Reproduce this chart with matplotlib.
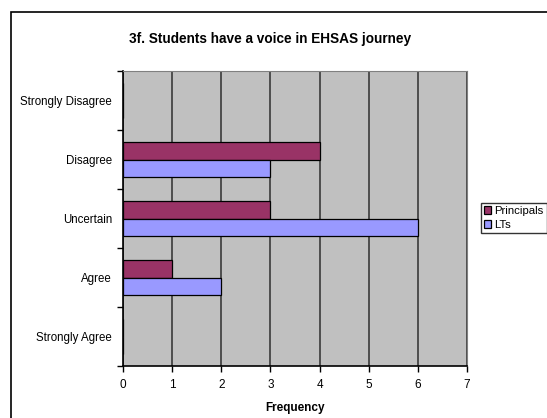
import matplotlib
matplotlib.use("Agg")
import numpy as np
from matplotlib import pyplot as plt
from matplotlib.patches import Rectangle

categories = ['Strongly Agree', 'Agree', 'Uncertain', 'Disagree', 'Strongly Disagree']
principals = [0, 1, 3, 4, 0]
lts = [0, 2, 6, 3, 0]
xticks = [0, 1, 2, 3, 4, 5, 6, 7]

plt.rcParams['font.family'] = ['Liberation Sans', 'DejaVu Sans']

fig = plt.figure(figsize=(5.47, 4.18), dpi=100)
# outer chart border (runs off right/bottom edge)
fig.patches.append(Rectangle((11 / 547, -0.1), 1.0, 1 - 12 / 418 + 0.1, transform=fig.transFigure,
                             fill=False, edgecolor='black', linewidth=1.2))

ax = fig.add_axes([123 / 547, 1 - 366 / 418, 344 / 547, 295 / 418])
ax.set_facecolor('#c0c0c0')

y = np.arange(len(categories))
h = 0.3
ax.barh(y + h / 2, principals, height=h, color='#993366', edgecolor='black', linewidth=0.9, label='Principals')
ax.barh(y - h / 2, lts, height=h, color='#9999ff', edgecolor='black', linewidth=0.9, label='LTs')

ax.set_xlim(0, 7)
ax.set_ylim(-0.5, len(categories) - 0.5)
ax.set_xticks(xticks)
ax.set_xticklabels([str(t) for t in xticks], fontsize=8.5)
ax.xaxis.grid(True, color='#4d4d4d', linewidth=1.4)
ax.set_axisbelow(True)

# category labels centred, tick marks on the boundaries
ax.set_yticks(y)
ax.set_yticklabels(categories, fontsize=8.3)
ax.tick_params(axis='y', length=0, pad=8)
ax.set_yticks(np.arange(-0.5, len(categories)), minor=True)
ax.tick_params(axis='y', which='minor', length=4, direction='out', width=1)
ax.tick_params(axis='x', length=4, width=1, pad=5)

for s in ['top', 'right']:
    ax.spines[s].set_color('#808080')
for s in ['left', 'bottom']:
    ax.spines[s].set_color('black')
    ax.spines[s].set_linewidth(1.2)

ax.set_xlabel('Frequency', fontsize=8.5, fontweight='bold', labelpad=8)
fig.text(270 / 547, 1 - 39 / 418, '3f. Students have a voice in EHSAS journey',
         ha='center', va='center', fontsize=9.8, fontweight='bold')

leg = fig.legend(loc='center left', bbox_to_anchor=(481 / 547, 1 - 218 / 418), fontsize=8.2,
                 frameon=True, fancybox=False, edgecolor='black', handlelength=0.6, handleheight=0.6,
                 handletextpad=0.25, borderpad=0.3, labelspacing=0.35, borderaxespad=0)
leg.get_frame().set_linewidth(1.0)

fig.savefig('out.png', dpi=100)
